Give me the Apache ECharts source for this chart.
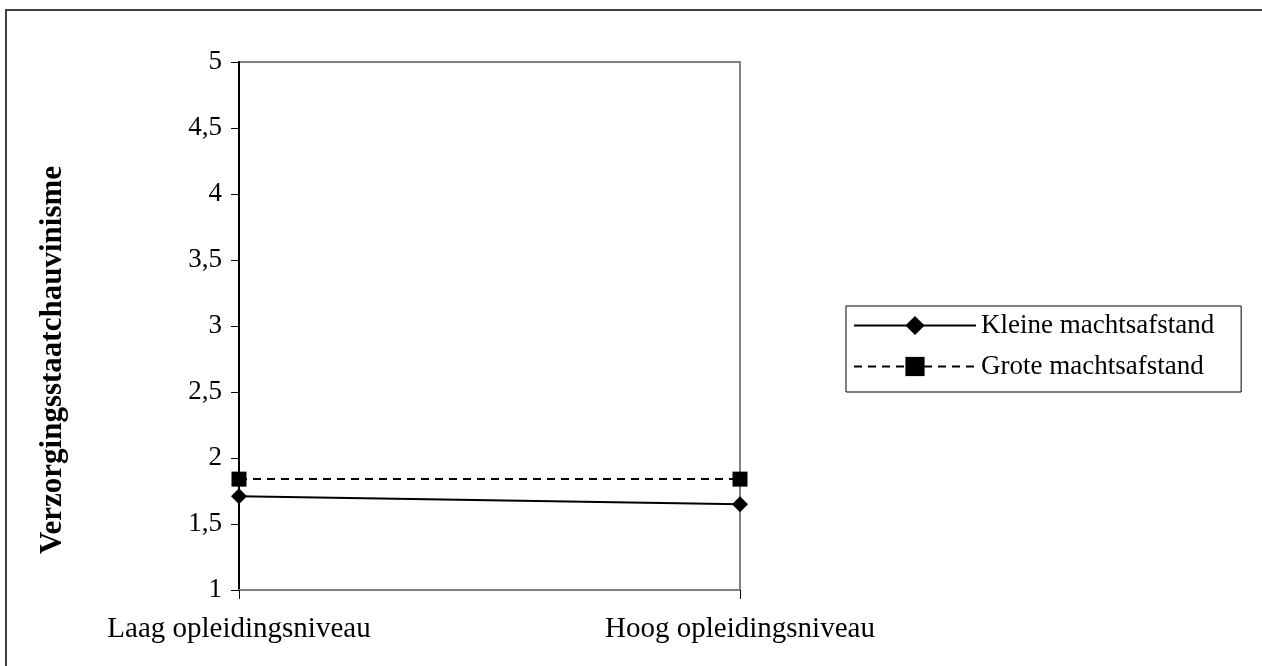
<!DOCTYPE html>
<html>
<head>
<meta charset="utf-8">
<script src="https://cdn.jsdelivr.net/npm/echarts@6/dist/echarts.min.js"></script>
<style>html,body{margin:0;padding:0;background:#fff}#c{width:1262px;height:666px}</style>
</head>
<body>
<div id="c"></div>
<script>
const categories = ['Laag opleidingsniveau', 'Hoog opleidingsniveau'];
const kleine = [1.71, 1.65];
const grote = [1.84, 1.84];
const seriesNames = ['Kleine machtsafstand', 'Grote machtsafstand'];
const yTitle = 'Verzorgingsstaatchauvinisme';

const FONT = '"Liberation Serif", "Times New Roman", serif';
const chart = echarts.init(document.getElementById('c'));
chart.setOption({
  animation: false,
  backgroundColor: '#fff',
  textStyle: { fontFamily: FONT, color: '#000' },
  graphic: [
    { type: 'rect', shape: { x: 6, y: 10, width: 1300, height: 700 },
      style: { fill: 'none', stroke: '#404040', lineWidth: 2 }, z: 0 },
    { type: 'text', x: 53, y: 360, rotation: Math.PI / 2,
      style: { text: yTitle, font: 'bold 31px ' + FONT, fill: '#000', align: 'center', verticalAlign: 'middle' }, z: 5 }
  ],
  grid: { left: 239, right: 522, top: 62, bottom: 76, show: true, borderColor: '#808080', borderWidth: 2, backgroundColor: 'transparent' },
  legend: {
    orient: 'vertical', left: 846, top: 306,
    borderColor: '#000', borderWidth: 1, backgroundColor: '#fff',
    padding: [6, 27, 12, 7], itemGap: 14,
    itemWidth: 122, itemHeight: 24,
    textStyle: { fontFamily: FONT, fontSize: 27, color: '#000' },
    data: seriesNames
  },
  xAxis: {
    type: 'category', data: categories, boundaryGap: false,
    axisLine: { lineStyle: { color: '#808080', width: 2 } },
    axisTick: { show: true, length: 9, lineStyle: { color: '#000', width: 1 } },
    axisLabel: { fontFamily: FONT, fontSize: 29, color: '#000', margin: 25 },
    splitLine: { show: false }
  },
  yAxis: {
    type: 'value', min: 1, max: 5, interval: 0.5,
    axisLine: { show: true, lineStyle: { color: '#000', width: 2 } },
    axisTick: { show: true, length: 8, lineStyle: { color: '#000', width: 1 } },
    axisLabel: { fontFamily: FONT, fontSize: 27, color: '#000', margin: 17,
      formatter: v => String(v).replace('.', ',') },
    splitLine: { show: false }
  },
  series: [
    { name: seriesNames[0], type: 'line', data: kleine, symbol: 'diamond', symbolSize: 16,
      itemStyle: { color: '#000' }, lineStyle: { color: '#000', width: 2 }, z: 3 },
    { name: seriesNames[1], type: 'line', data: grote, symbol: 'rect', symbolSize: 15,
      itemStyle: { color: '#000' }, lineStyle: { color: '#000', width: 2, type: [8, 6] }, z: 3 }
  ]
});
</script>
</body>
</html>
